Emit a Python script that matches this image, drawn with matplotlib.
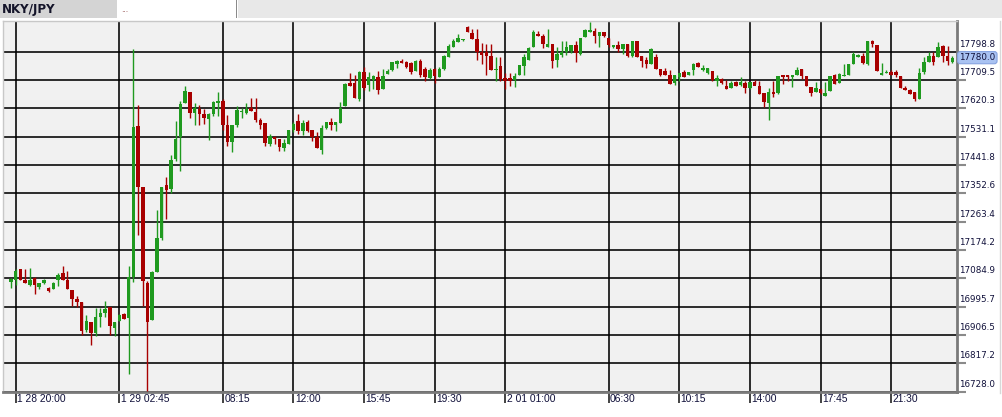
import matplotlib
matplotlib.use("Agg")
import matplotlib.pyplot as plt
from matplotlib import font_manager
from matplotlib.patches import Rectangle
from matplotlib.lines import Line2D
import numpy as np

# ---------------- data ----------------
opens = [17073, 17079, 17113, 17081, 17065, 17086, 17058, 17070, 17055, 17053,
         17081, 17101, 17079, 17049, 17021, 17010, 16921, 16948, 16913, 16962,
         16977, 16994, 16930, 16951, 16974, 16961, 17090, 17564, 17372, 17070,
         16954, 17106, 17212, 17379, 17367, 17460, 17530, 17636, 17672, 17606,
         17617, 17602, 17586, 17602, 17637, 17643, 17567, 17514, 17567, 17608,
         17606, 17621, 17610, 17584, 17574, 17508, 17531, 17524, 17497, 17508,
         17553, 17581, 17548, 17576, 17553, 17531, 17489, 17557, 17578, 17568,
         17573, 17627, 17699, 17699, 17650, 17736, 17694, 17709, 17720, 17681,
         17728, 17742, 17760, 17771, 17765, 17762, 17737, 17770, 17745, 17715,
         17745, 17720, 17745, 17783, 17815, 17828, 17835, 17877, 17858, 17838,
         17799, 17799, 17785, 17741, 17753, 17716, 17716, 17710, 17727, 17753,
         17774, 17815, 17855, 17847, 17815, 17823, 17774, 17788, 17799, 17802,
         17820, 17791, 17846, 17860, 17863, 17847, 17860, 17842, 17815, 17820,
         17806, 17823, 17785, 17834, 17785, 17772, 17761, 17781, 17745, 17738,
         17727, 17699, 17718, 17734, 17727, 17742, 17763, 17742, 17731, 17738,
         17706, 17713, 17692, 17686, 17702, 17694, 17699, 17683, 17702, 17692,
         17670, 17638, 17673, 17668, 17724, 17724, 17718, 17727, 17745, 17721,
         17689, 17673, 17680, 17660, 17676, 17724, 17699, 17721, 17724, 17759,
         17781, 17785, 17761, 17831, 17820, 17727, 17731, 17734, 17734, 17721,
         17686, 17678, 17673, 17650, 17735, 17767, 17785, 17781, 17817, 17785,
         17765]
highs = [17086, 17116, 17115, 17115, 17118, 17090, 17070, 17083, 17057, 17073,
         17101, 17124, 17109, 17049, 17030, 17010, 16969, 16948, 16993, 16993,
         17014, 16994, 16948, 16973, 16977, 17125, 17806, 17630, 17372, 17077,
         17108, 17299, 17372, 17404, 17472, 17581, 17643, 17690, 17672, 17638,
         17630, 17617, 17606, 17643, 17672, 17649, 17599, 17567, 17629, 17623,
         17636, 17652, 17652, 17590, 17574, 17539, 17534, 17524, 17524, 17553,
         17576, 17602, 17584, 17584, 17553, 17545, 17569, 17578, 17590, 17576,
         17639, 17699, 17732, 17726, 17739, 17752, 17736, 17726, 17739, 17744,
         17744, 17765, 17772, 17775, 17768, 17765, 17772, 17775, 17750, 17748,
         17748, 17750, 17788, 17823, 17838, 17856, 17840, 17881, 17870, 17870,
         17825, 17823, 17823, 17783, 17783, 17731, 17731, 17731, 17756, 17791,
         17813, 17868, 17863, 17855, 17870, 17823, 17813, 17831, 17834, 17820,
         17831, 17842, 17870, 17892, 17872, 17860, 17860, 17842, 17820, 17834,
         17823, 17823, 17834, 17834, 17785, 17783, 17809, 17793, 17745, 17748,
         17740, 17724, 17731, 17740, 17734, 17763, 17766, 17756, 17748, 17738,
         17724, 17716, 17710, 17708, 17705, 17719, 17708, 17702, 17710, 17708,
         17670, 17686, 17705, 17721, 17724, 17724, 17727, 17752, 17745, 17721,
         17689, 17702, 17680, 17702, 17721, 17729, 17731, 17761, 17761, 17798,
         17793, 17796, 17834, 17836, 17820, 17763, 17740, 17740, 17740, 17721,
         17692, 17681, 17673, 17746, 17783, 17799, 17799, 17829, 17820, 17817,
         17784]
lows = [17056, 17064, 17081, 17069, 17062, 17037, 17051, 17068, 17041, 17051,
        17062, 17079, 17053, 16998, 16996, 16907, 16917, 16874, 16904, 16932,
        16962, 16906, 16902, 16951, 16958, 16785, 17072, 17220, 16998, 16730,
        16954, 17106, 17207, 17272, 17354, 17456, 17423, 17636, 17591, 17569,
        17569, 17572, 17522, 17596, 17596, 17551, 17501, 17483, 17562, 17590,
        17603, 17613, 17576, 17555, 17503, 17503, 17508, 17487, 17485, 17508,
        17545, 17539, 17537, 17545, 17518, 17495, 17477, 17555, 17553, 17550,
        17573, 17627, 17690, 17653, 17644, 17678, 17676, 17681, 17665, 17681,
        17728, 17739, 17747, 17762, 17747, 17730, 17737, 17718, 17705, 17712,
        17700, 17718, 17742, 17781, 17815, 17828, 17833, 17860, 17838, 17772,
        17759, 17724, 17740, 17706, 17708, 17681, 17692, 17689, 17724, 17724,
        17774, 17815, 17847, 17809, 17815, 17748, 17751, 17783, 17788, 17794,
        17766, 17788, 17846, 17860, 17825, 17813, 17844, 17815, 17810, 17799,
        17793, 17781, 17781, 17783, 17751, 17748, 17761, 17745, 17721, 17724,
        17697, 17695, 17708, 17720, 17724, 17727, 17752, 17738, 17729, 17708,
        17692, 17697, 17681, 17686, 17692, 17692, 17670, 17680, 17697, 17667,
        17624, 17585, 17656, 17665, 17697, 17708, 17689, 17727, 17713, 17692,
        17660, 17673, 17665, 17660, 17674, 17697, 17699, 17721, 17724, 17759,
        17781, 17759, 17758, 17815, 17738, 17724, 17731, 17727, 17719, 17684,
        17678, 17667, 17644, 17650, 17730, 17767, 17757, 17781, 17767, 17758,
        17762]
closes = [17082, 17109, 17081, 17069, 17079, 17064, 17070, 17081, 17044, 17070,
          17095, 17081, 17053, 17021, 17009, 16919, 16951, 16913, 16964, 16976,
          16990, 16934, 16948, 16971, 16958, 17090, 17562, 17372, 17077, 16949,
          17104, 17211, 17372, 17362, 17458, 17524, 17635, 17674, 17606, 17620,
          17602, 17590, 17602, 17640, 17643, 17569, 17514, 17567, 17614, 17613,
          17618, 17613, 17585, 17569, 17510, 17534, 17523, 17500, 17510, 17553,
          17571, 17550, 17573, 17550, 17529, 17495, 17558, 17576, 17568, 17576,
          17623, 17697, 17690, 17653, 17734, 17686, 17720, 17723, 17678, 17723,
          17739, 17765, 17770, 17762, 17752, 17734, 17770, 17725, 17718, 17742,
          17722, 17745, 17785, 17817, 17834, 17842, 17838, 17860, 17838, 17799,
          17788, 17785, 17742, 17745, 17713, 17708, 17706, 17721, 17756, 17781,
          17810, 17860, 17847, 17823, 17823, 17770, 17793, 17799, 17815, 17820,
          17796, 17842, 17868, 17868, 17849, 17860, 17847, 17820, 17820, 17806,
          17823, 17785, 17834, 17783, 17770, 17759, 17806, 17745, 17727, 17724,
          17697, 17724, 17731, 17720, 17734, 17759, 17752, 17749, 17748, 17710,
          17716, 17699, 17681, 17699, 17692, 17702, 17686, 17702, 17692, 17667,
          17641, 17673, 17665, 17721, 17718, 17718, 17727, 17742, 17721, 17692,
          17670, 17683, 17670, 17670, 17721, 17697, 17729, 17727, 17761, 17793,
          17788, 17762, 17831, 17823, 17738, 17731, 17734, 17727, 17724, 17686,
          17678, 17667, 17649, 17732, 17767, 17785, 17767, 17813, 17785, 17770,
          17780]

time_tick_idx = [1, 23, 45, 60, 75, 90, 105, 127, 142, 157, 172, 187]
time_labels = ["1 28 20:00", "1 29 02:45", "08:15", "12:00", "15:45", "19:30",
               "2 01 01:00", "06:30", "10:15", "14:00", "17:45", "21:30"]
price_levels = [16728.0, 16817.2, 16906.5, 16995.7, 17084.9, 17174.2, 17263.4,
                17352.6, 17441.8, 17531.1, 17620.3, 17709.5, 17798.8]
last_price = 17780.0
symbol = "NKY/JPY"

# ---------------- fonts ----------------
avail = {f.name for f in font_manager.fontManager.ttflist}
def pick(fams):
    for f in fams:
        if f in avail:
            return f
    return "DejaVu Sans"
narrow = pick(["Liberation Sans Narrow", "Liberation Sans"])

W, H = 1003, 417
fig = plt.figure(figsize=(W / 100, H / 100), dpi=100, facecolor="white")

def px(x0, y0, x1, y1):
    return [x0 / W, 1 - y1 / H, (x1 - x0) / W, (y1 - y0) / H]

# header strip
fig.patches.append(Rectangle((0, 1 - 18.3 / H), 117.5 / W, 18.3 / H,
                             transform=fig.transFigure, facecolor="#d4d4d4", edgecolor="none"))
fig.patches.append(Rectangle((117.5 / W, 1 - 18.3 / H), 118.5 / W, 18.3 / H,
                             transform=fig.transFigure, facecolor="white", edgecolor="none"))
fig.patches.append(Rectangle((236 / W, 1 - 18.3 / H), 1.5 / W, 18.3 / H,
                             transform=fig.transFigure, facecolor="#8a8a8a", edgecolor="none"))
fig.patches.append(Rectangle((238 / W, 1 - 18.3 / H), (W - 238) / W, 18.3 / H,
                             transform=fig.transFigure, facecolor="#e8e8e8", edgecolor="none"))
fig.text(2 / W, 1 - 9 / H, symbol, fontsize=8.6, fontweight="bold", color="#15152a",
         va="center", ha="left", family="DejaVu Sans")
fig.text(121 / W, 1 - 10 / H, "...", fontsize=5.5, color="#803030", va="center", ha="left")
# right light border of label area
fig.lines.append(Line2D([1000.5 / W, 1000.5 / W], [1 - 393 / H, 1 - 21 / H],
                        transform=fig.transFigure, color="#d8d8d8", lw=1))

# ---------------- chart ----------------
ax = fig.add_axes(px(3, 21, 957, 391.7))
ax.set_facecolor("#f1f1f1")
n = len(opens)
xs = np.arange(n)
ax.set_xlim(-1.7, 201.0)
ax.set_ylim(16728.0, 17895.5)

o = np.array(opens, float); c = np.array(closes, float)
h = np.array(highs, float); l = np.array(lows, float)
up = c >= o
cols = np.where(up, "#1f9a1f", "#a80000")

ax.set_xticks(time_tick_idx)
ax.set_yticks(price_levels)
ax.grid(True, color="black", lw=1.15, zorder=1)
ax.set_axisbelow(True)

ax.vlines(xs, l, h, colors=cols, lw=1.0, zorder=3)
body_bot = np.minimum(o, c)
body_h = np.maximum(np.abs(c - o), 3.5)
ax.bar(xs, body_h, bottom=body_bot, width=0.74, color=cols, edgecolor="none", zorder=4)

for s in ["left", "top"]:
    ax.spines[s].set_color("#c8c8c8"); ax.spines[s].set_linewidth(1.0)
for s in ["right", "bottom"]:
    ax.spines[s].set_color("#7a7a7a"); ax.spines[s].set_linewidth(2.0)

ax.tick_params(axis="x", direction="out", length=8, width=1.2, color="#222222",
               labelbottom=False)
ax.tick_params(axis="y", direction="out", length=6.5, width=1.5, color="#8a8a8a",
               left=False, right=True, labelleft=False, labelright=False)

tc = "#10103a"
for idx, lab in zip(time_tick_idx, time_labels):
    ax.annotate(lab, xy=(idx, 0), xycoords=("data", "axes fraction"),
                xytext=(1.0, -1.3), textcoords="offset points",
                ha="left", va="top", fontsize=7.4, color=tc, family=narrow)
for lv in price_levels:
    ax.annotate(f"{lv:.1f}", xy=(1, lv), xycoords=("axes fraction", "data"),
                xytext=(1.6, 5.4), textcoords="offset points",
                ha="left", va="center", fontsize=6.3, color=tc, family="DejaVu Sans")
ax.annotate(f"{last_price:.1f}", xy=(1, last_price), xycoords=("axes fraction", "data"),
            xytext=(1.6, 0), textcoords="offset points",
            ha="left", va="center", fontsize=6.3, color=tc, family="DejaVu Sans",
            bbox=dict(boxstyle="round,pad=0.18,rounding_size=0.3",
                      facecolor="#a9c2f2", edgecolor="#86a3e0", lw=0.8))

fig.savefig("out.png", dpi=100, facecolor="white")
